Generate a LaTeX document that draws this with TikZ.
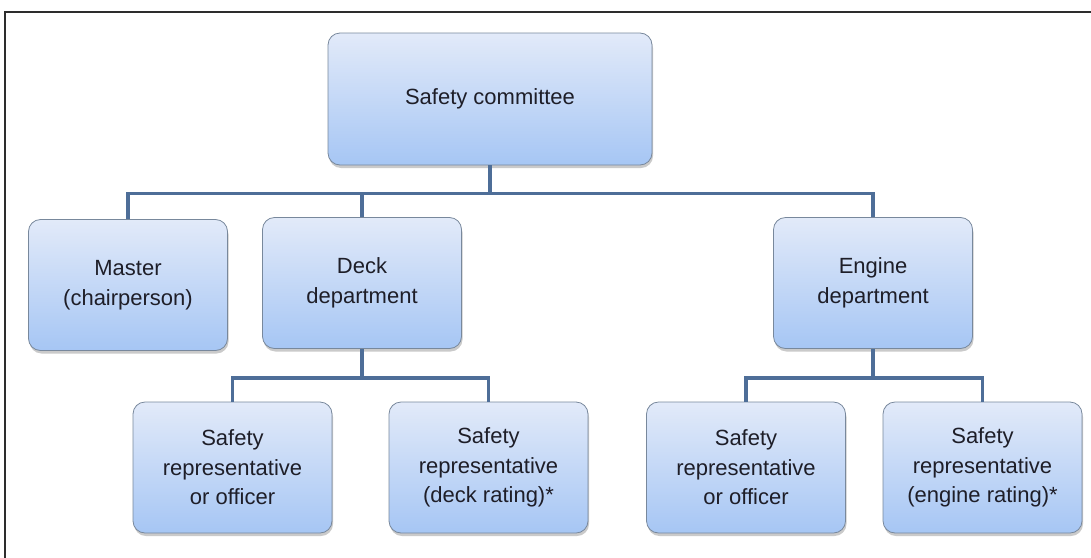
\documentclass[tikz,border=0pt]{standalone}
\usepackage{fontspec}
\setmainfont{Liberation Sans}
\usetikzlibrary{positioning,shadows}
\definecolor{boxtop}{RGB}{226,234,249}
\definecolor{boxbot}{RGB}{166,198,244}
\definecolor{boxedge}{RGB}{120,136,156}
\definecolor{linkblue}{RGB}{78,110,152}
\definecolor{figtext}{RGB}{30,30,40}
\definecolor{figframe}{RGB}{45,45,45}

\begin{document}
\begin{tikzpicture}[x=1pt, y=-1pt,
  font=\fontsize{22}{29.5}\selectfont,
  unit/.style={draw=boxedge, line width=0.8pt, rounded corners=12pt,
    top color=boxtop, bottom color=boxbot, text=figtext, align=center,
    minimum width=199pt, minimum height=131pt, inner sep=2pt,
    drop shadow={shadow xshift=1pt, shadow yshift=-3pt, opacity=.35, fill=black!60}},
  link/.style={draw=linkblue, line width=3.5pt}]
  \clip (0,0) rectangle (1091,557);
  \draw[figframe, line width=2pt] (5,12) rectangle (1100,570);
  % top of the tree
  \node[unit, minimum width=324pt, minimum height=132pt] (comm) at (490,99) {Safety committee};
  % members
  \node[unit] (master) at (128,285) {Master\\(chairperson)};
  \node[unit] (deck) at (362,283) {Deck\\department};
  \node[unit] (engine) at (873,283) {Engine\\department};
  % representatives
  \node[unit] (deckoff) at (232.5,467.5) {Safety\\representative\\or officer};
  \node[unit] (deckrat) at (488.5,467.5) {Safety\\representative\\(deck rating)*};
  \node[unit] (engoff) at (746,467.5) {Safety\\representative\\or officer};
  \node[unit] (engrat) at (982.5,467.5) {Safety\\representative\\(engine rating)*};
  % connectors
  \coordinate (bus) at ([yshift=-28pt]comm.south);
  \coordinate (deckbus) at ([yshift=-29pt]deck.south);
  \coordinate (engbus) at ([yshift=-29pt]engine.south);
  \draw[link] (comm.south) -- (bus);
  \draw[link] (master.north) |- (bus) -| (engine.north);
  \draw[link] (deck.north) -- (deck.north |- bus);
  \draw[link] (deck.south) -- (deckbus);
  \draw[link] (deckoff.north) |- (deckbus) -| (deckrat.north);
  \draw[link] (engine.south) -- (engbus);
  \draw[link] (engoff.north) |- (engbus) -| (engrat.north);
\end{tikzpicture}
\end{document}
